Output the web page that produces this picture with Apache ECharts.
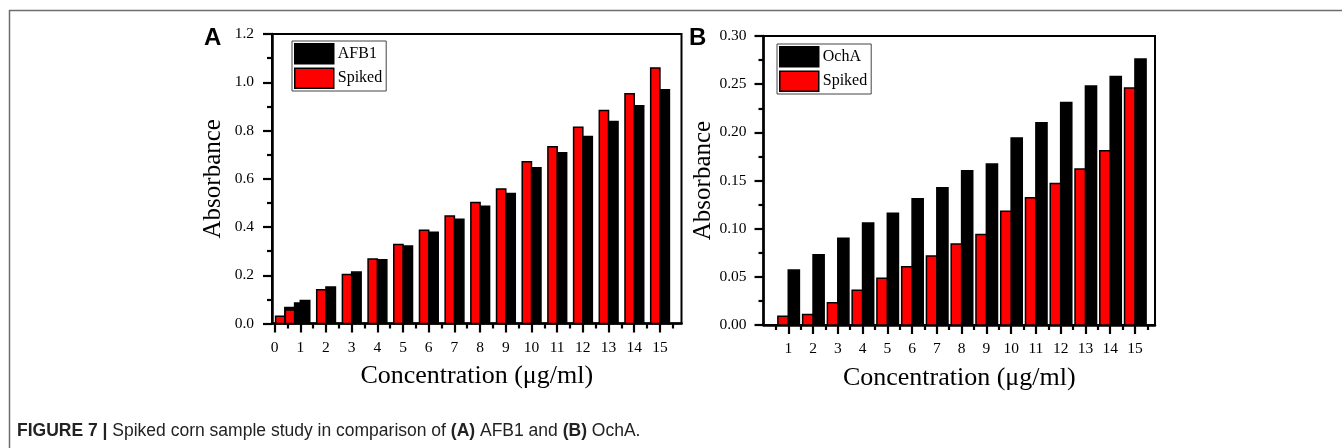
<!DOCTYPE html>
<html>
<head>
<meta charset="utf-8">
<script src="https://cdn.jsdelivr.net/npm/echarts@6/dist/echarts.min.js"></script>
<style>
html,body{margin:0;padding:0;background:#fff;}
#chart{width:1342px;height:448px;}
</style>
</head>
<body>
<div id="chart"></div>
<script>
// ---- Panel A data (AFB1 vs Spiked) ----
const afb1X = [0.4, 0.78, 1, 2, 3, 4, 5, 6, 7, 8, 9, 10, 11, 12, 13, 14, 15];
const afb1Y = [0.066, 0.085, 0.095, 0.151, 0.213, 0.264, 0.321, 0.378, 0.432, 0.486, 0.539, 0.646, 0.708, 0.775, 0.837, 0.903, 0.969];
const spikedAX = [0.4, 0.78, 2, 3, 4, 5, 6, 7, 8, 9, 10, 11, 12, 13, 14, 15];
const spikedAY = [0.030, 0.056, 0.140, 0.203, 0.267, 0.327, 0.387, 0.446, 0.502, 0.558, 0.670, 0.733, 0.813, 0.883, 0.952, 1.059];
const ticksA = [0, 1, 2, 3, 4, 5, 6, 7, 8, 9, 10, 11, 12, 13, 14, 15];

// ---- Panel B data (OchA vs Spiked) ----
const concB = [1, 2, 3, 4, 5, 6, 7, 8, 9, 10, 11, 12, 13, 14, 15];
const ochaY = [0.057, 0.073, 0.090, 0.106, 0.116, 0.131, 0.1425, 0.160, 0.167, 0.194, 0.210, 0.231, 0.248, 0.258, 0.276];
const spikedBY = [0.009, 0.011, 0.023, 0.036, 0.0485, 0.0605, 0.0716, 0.084, 0.094, 0.118, 0.132, 0.147, 0.162, 0.181, 0.246];
const ticksB = [1, 2, 3, 4, 5, 6, 7, 8, 9, 10, 11, 12, 13, 14, 15];

const minorA = ticksA.map(v => v + 0.5);
const minorB = [0].concat(ticksB).map(v => v + 0.5);

const SERIF = '"Liberation Serif", "Times New Roman", serif';
const SANS = '"Liberation Sans", Arial, sans-serif';

function zip(xs, ys) { return xs.map((x, i) => [x, ys[i]]); }

function barRender(side, w) {
  return function (params, api) {
    const x = api.value(0), y = api.value(1);
    const xa = side < 0 ? x - w : x;
    const xb = side < 0 ? x : x + w;
    const p0 = api.coord([xa, 0]);
    const p1 = api.coord([xb, y]);
    return {
      type: 'rect',
      shape: { x: p0[0], y: p1[1], width: p1[0] - p0[0], height: p0[1] - p1[1] },
      style: { fill: api.visual('color'), stroke: '#000', lineWidth: 1.5 }
    };
  };
}

function xAxisMain(gridIndex, min, max, ticks) {
  return {
    type: 'value', gridIndex: gridIndex, min: min, max: max,
    axisLine: { show: true, onZero: false, lineStyle: { color: '#000', width: 2.5 } },
    axisTick: { show: true, inside: false, length: 9, customValues: ticks, lineStyle: { color: '#000', width: 2.2 } },
    axisLabel: { show: true, customValues: ticks, margin: 16, color: '#000', fontFamily: SERIF, fontSize: 15.5 },
    splitLine: { show: false },
    name: 'Concentration (\u03bcg/ml)', nameLocation: 'middle', nameGap: 40,
    nameTextStyle: { color: '#000', fontFamily: SERIF, fontSize: 26 }
  };
}
function xAxisMinor(gridIndex, min, max, ticks) {
  return {
    type: 'value', gridIndex: gridIndex, min: min, max: max, position: 'bottom',
    axisLine: { show: false },
    axisTick: { show: true, inside: false, length: 5, customValues: ticks, lineStyle: { color: '#000', width: 2.2 } },
    axisLabel: { show: false },
    splitLine: { show: false }
  };
}
function yAxis(gridIndex, max, interval, dec, gap, margin) {
  return {
    type: 'value', gridIndex: gridIndex, min: 0, max: max, interval: interval,
    axisLine: { show: true, onZero: false, lineStyle: { color: '#000', width: 2.5 } },
    axisTick: { show: true, inside: false, length: 9, lineStyle: { color: '#000', width: 2.2 } },
    minorTick: { show: true, splitNumber: 2, length: 5, lineStyle: { color: '#000', width: 2.2 } },
    axisLabel: { margin: margin, color: '#000', fontFamily: SERIF, fontSize: 15.5, formatter: v => v.toFixed(dec) },
    splitLine: { show: false },
    name: 'Absorbance', nameLocation: 'middle', nameGap: gap,
    nameTextStyle: { color: '#000', fontFamily: SERIF, fontSize: 25 }
  };
}

function legend(names, left, top) {
  return {
    orient: 'vertical', left: left, top: top,
    icon: 'rect', itemWidth: 39, itemHeight: 20, itemGap: 3,
    padding: [2, 4, 2, 2], borderColor: '#444', borderWidth: 1,
    backgroundColor: '#fff',
    textStyle: { color: '#000', fontFamily: SERIF, fontSize: 16, padding: [0, 0, 0, -1] },
    data: names.map(n => ({
      name: n,
      itemStyle: n === 'Spiked'
        ? { color: '#ff0000', borderColor: '#000', borderWidth: 1.5 }
        : { color: '#000', borderColor: '#000', borderWidth: 1.5 }
    }))
  };
}

const chart = echarts.init(document.getElementById('chart'), null, { renderer: 'canvas' });
chart.setOption({
  animation: false,
  backgroundColor: '#fff',
  grid: [
    { left: 272, right: 1342 - 681.5, top: 34, bottom: 448 - 323.5, show: true, borderColor: '#000', borderWidth: 2, backgroundColor: 'transparent' },
    { left: 763.5, right: 1342 - 1155, top: 36, bottom: 448 - 325, show: true, borderColor: '#000', borderWidth: 2, backgroundColor: 'transparent' }
  ],
  xAxis: [
    xAxisMain(0, -0.1, 15.84, ticksA),
    xAxisMinor(0, -0.1, 15.84, minorA),
    xAxisMain(1, 0, 15.81, ticksB),
    xAxisMinor(1, 0, 15.81, minorB)
  ],
  yAxis: [
    yAxis(0, 1.2, 0.2, 1, 46, 18),
    yAxis(1, 0.3, 0.05, 2, 44, 17)
  ],
  legend: [
    legend(['AFB1', 'Spiked'], 292, 41),
    legend(['OchA', 'Spiked'], 777, 44)
  ],
  series: [
    { name: 'AFB1', type: 'custom', xAxisIndex: 0, yAxisIndex: 0, renderItem: barRender(1, 0.37),
      itemStyle: { color: '#000' }, encode: { x: 0, y: 1 }, data: zip(afb1X, afb1Y) },
    { name: 'Spiked', type: 'custom', xAxisIndex: 0, yAxisIndex: 0, renderItem: barRender(-1, 0.36),
      itemStyle: { color: '#ff0000' }, encode: { x: 0, y: 1 }, data: zip(spikedAX, spikedAY) },
    { name: 'OchA', type: 'custom', xAxisIndex: 2, yAxisIndex: 1, renderItem: barRender(1, 0.45),
      itemStyle: { color: '#000' }, encode: { x: 0, y: 1 }, data: zip(concB, ochaY) },
    { name: 'Spiked', type: 'custom', xAxisIndex: 2, yAxisIndex: 1, renderItem: barRender(-1, 0.42),
      itemStyle: { color: '#ff0000' }, encode: { x: 0, y: 1 }, data: zip(concB, spikedBY) }
  ],
  graphic: [
    { type: 'line', shape: { x1: 9, y1: 10.5, x2: 1342, y2: 10.5 }, style: { stroke: '#6e6e6e', lineWidth: 1.5 } },
    { type: 'line', shape: { x1: 9.5, y1: 10, x2: 9.5, y2: 448 }, style: { stroke: '#6e6e6e', lineWidth: 1.5 } },
    { type: 'text', left: 204, top: 26, style: { text: 'A', fill: '#000', font: 'bold 24px ' + SANS } },
    { type: 'text', left: 689, top: 26, style: { text: 'B', fill: '#000', font: 'bold 24px ' + SANS } },
    { type: 'text', left: 17, top: 422,
      style: {
        text: '{b|FIGURE 7 |} Spiked corn sample study in comparison of {b|(A)} AFB1 and {b|(B)} OchA.',
        fill: '#222', font: '17.5px ' + SANS,
        rich: { b: { fontWeight: 'bold', fontFamily: SANS, fontSize: 17.5, fill: '#222' } }
      } }
  ]
});
</script>
</body>
</html>
